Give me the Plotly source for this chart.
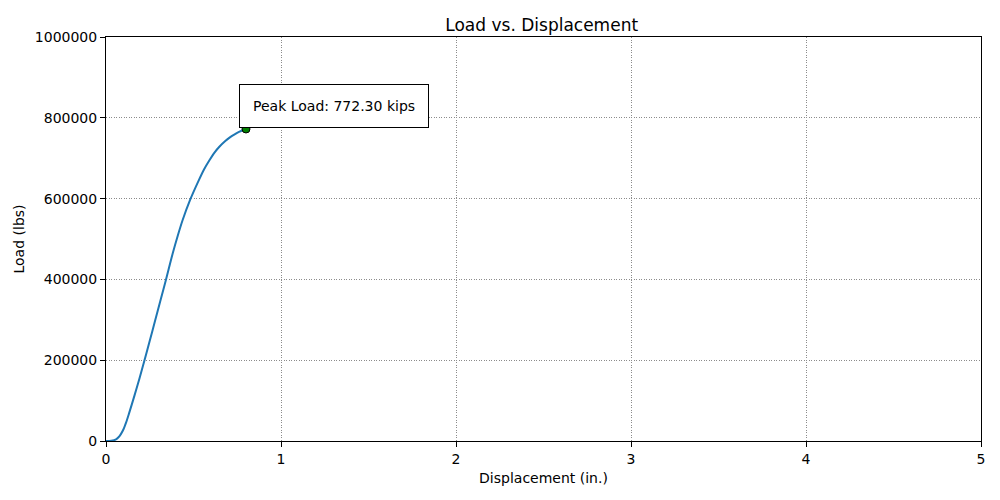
import plotly.graph_objects as go

# displacement (in.) and load (lbs)
displacement = [0.0, 0.03, 0.057, 0.07, 0.085, 0.10, 0.115, 0.13, 0.163, 0.19, 0.22, 0.25,
                0.28, 0.31, 0.343, 0.381, 0.41, 0.438, 0.48, 0.53, 0.56, 0.591, 0.62, 0.649,
                0.68, 0.706, 0.735, 0.763, 0.80]
load = [0, 800, 4000, 8500, 17000, 29000, 46000, 66000, 113000, 153000, 200000, 248000,
        297000, 346000, 400000, 464000, 508000, 547000, 596000, 645000, 672000, 695000, 714000,
        729000, 742000, 751000, 759000, 765800, 772300]

peak_disp = 0.80
peak_load = 772300
peak_text = f"Peak Load: {peak_load / 1000:.2f} kips"

x_ticks = [0, 1, 2, 3, 4, 5]
y_ticks = [0, 200000, 400000, 600000, 800000, 1000000]

font = "DejaVu Sans"

fig = go.Figure()
fig.add_trace(go.Scatter(x=displacement, y=load, mode="lines", line_shape="spline",
                         line=dict(color="#1f77b4", width=2, smoothing=0.8), showlegend=False))
fig.add_trace(go.Scatter(x=[peak_disp], y=[peak_load], mode="markers",
                         marker=dict(color="green", size=8, line=dict(color="black", width=1)),
                         showlegend=False))

# label box sits just up-left of the peak point
fig.add_annotation(x=peak_disp - 0.04, y=peak_load + 3000, xref="x", yref="y",
                   text=peak_text, showarrow=False, xanchor="left", yanchor="bottom",
                   font=dict(family=font, size=14, color="black"),
                   bgcolor="white", bordercolor="black", borderwidth=1, borderpad=13)

axis_common = dict(showline=True, linecolor="black", linewidth=1, mirror=True,
                   ticks="outside", ticklen=5, tickcolor="black", automargin=False,
                   showgrid=True, gridcolor="#8c8c8c", griddash="1px,1.5px", gridwidth=0.8,
                   zeroline=False, tickfont=dict(family=font, size=14, color="black"))

fig.update_xaxes(range=[0, 5], tickvals=x_ticks,
                 title=dict(text="Displacement (in.)", font=dict(family=font, size=14, color="black"), standoff=7),
                 **axis_common)
fig.update_yaxes(range=[0, 1000000], tickvals=y_ticks, tickformat="d",
                 title=dict(text="Load (lbs)", font=dict(family=font, size=14, color="black"), standoff=6),
                 **axis_common)

# page body has an 8px margin, so the figure is 992x492 and shifted
fig.update_layout(
    width=992, height=492,
    margin=dict(l=98, r=19, t=29, b=59),
    paper_bgcolor="white", plot_bgcolor="white",
    title=dict(text="Load vs. Displacement", x=0.538, xanchor="center",
               y=1 - 17 / 492, yanchor="middle",
               font=dict(family=font, size=17, color="black")),
    font=dict(family=font, color="black"),
)

fig.write_html("out.html")
